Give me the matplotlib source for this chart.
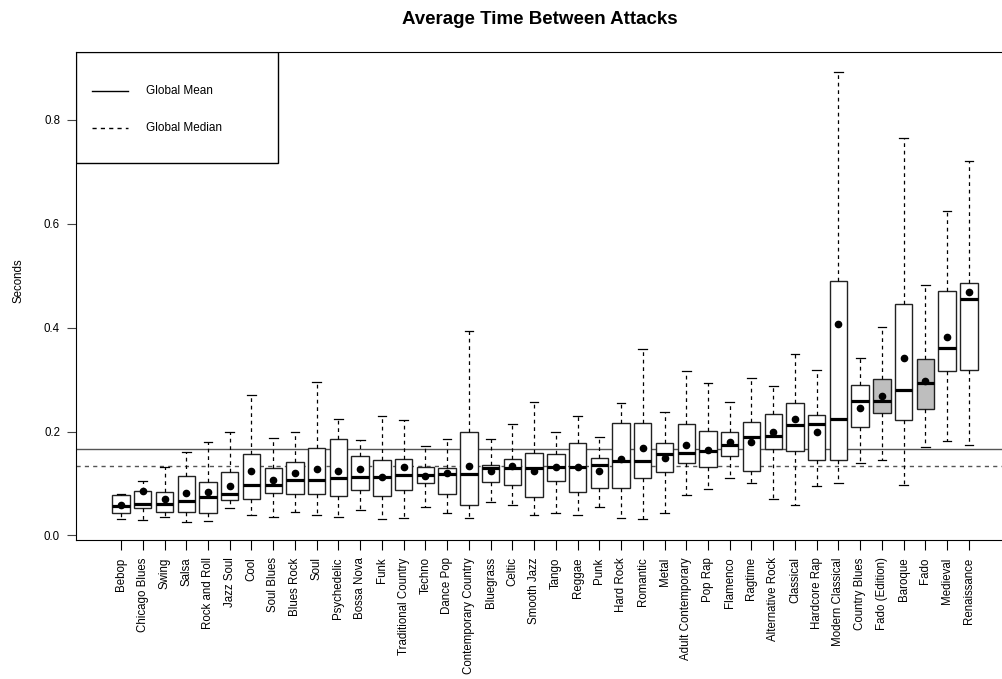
import matplotlib
matplotlib.use("Agg")
import matplotlib.pyplot as plt
from matplotlib.patches import Rectangle

plt.rcParams["font.family"] = ["Liberation Sans", "DejaVu Sans"]

# Genres, ordered by median time between attacks
generos = [
    "Bebop", "Chicago Blues", "Swing", "Salsa", "Rock and Roll", "Jazz Soul",
    "Cool", "Soul Blues", "Blues Rock", "Soul", "Psychedelic", "Bossa Nova",
    "Funk", "Traditional Country", "Techno", "Dance Pop", "Contemporary Country",
    "Bluegrass", "Celtic", "Smooth Jazz", "Tango", "Reggae", "Punk", "Hard Rock",
    "Romantic", "Metal", "Adult Contemporary", "Pop Rap", "Flamenco", "Ragtime",
    "Alternative Rock", "Classical", "Hardcore Rap", "Modern Classical",
    "Country Blues", "Fado (Edition)", "Baroque", "Fado", "Medieval", "Renaissance",
]

bigote_inf = [0.031, 0.030, 0.035, 0.026, 0.028, 0.052, 0.039, 0.035, 0.045, 0.040,
              0.035, 0.049, 0.032, 0.033, 0.054, 0.043, 0.034, 0.064, 0.058, 0.040,
              0.044, 0.040, 0.054, 0.034, 0.032, 0.044, 0.078, 0.090, 0.111, 0.100,
              0.070, 0.058, 0.095, 0.100, 0.140, 0.145, 0.097, 0.170, 0.182, 0.175]
q1 = [0.044, 0.052, 0.045, 0.045, 0.043, 0.068, 0.070, 0.081, 0.080, 0.080,
      0.075, 0.088, 0.076, 0.087, 0.100, 0.079, 0.059, 0.102, 0.097, 0.074,
      0.104, 0.084, 0.092, 0.091, 0.111, 0.123, 0.139, 0.131, 0.153, 0.125,
      0.166, 0.163, 0.146, 0.145, 0.209, 0.235, 0.222, 0.243, 0.316, 0.318]
mediana = [0.056, 0.061, 0.061, 0.067, 0.074, 0.079, 0.098, 0.098, 0.107, 0.107,
           0.110, 0.113, 0.113, 0.116, 0.116, 0.118, 0.119, 0.129, 0.129, 0.129,
           0.131, 0.132, 0.135, 0.143, 0.143, 0.157, 0.159, 0.163, 0.174, 0.190,
           0.192, 0.212, 0.215, 0.224, 0.258, 0.259, 0.279, 0.294, 0.361, 0.455]
q3 = [0.077, 0.085, 0.084, 0.114, 0.102, 0.123, 0.157, 0.130, 0.141, 0.169,
      0.185, 0.153, 0.146, 0.148, 0.132, 0.130, 0.199, 0.136, 0.148, 0.158,
      0.157, 0.178, 0.149, 0.216, 0.216, 0.177, 0.214, 0.201, 0.200, 0.218,
      0.233, 0.254, 0.231, 0.489, 0.290, 0.301, 0.445, 0.340, 0.470, 0.486]
bigote_sup = [0.079, 0.104, 0.132, 0.160, 0.180, 0.199, 0.270, 0.188, 0.199, 0.296,
              0.225, 0.184, 0.230, 0.223, 0.173, 0.185, 0.393, 0.186, 0.215, 0.257,
              0.200, 0.230, 0.190, 0.254, 0.358, 0.237, 0.317, 0.294, 0.256, 0.302,
              0.288, 0.349, 0.318, 0.892, 0.341, 0.401, 0.764, 0.482, 0.625, 0.720]
media = [0.059, 0.085, 0.070, 0.081, 0.083, 0.095, 0.124, 0.107, 0.120, 0.128,
         0.125, 0.127, 0.113, 0.132, 0.115, 0.121, 0.134, 0.125, 0.134, 0.125,
         0.131, 0.132, 0.124, 0.147, 0.169, 0.149, 0.174, 0.165, 0.179, 0.180,
         0.199, 0.224, 0.199, 0.406, 0.245, 0.268, 0.341, 0.297, 0.382, 0.469]

media_global = 0.166
mediana_global = 0.1345

resaltados = ["Fado (Edition)", "Fado"]

stats = []
for i, g in enumerate(generos):
    stats.append({
        "label": g,
        "whislo": bigote_inf[i],
        "q1": q1[i],
        "med": mediana[i],
        "q3": q3[i],
        "whishi": bigote_sup[i],
        "mean": media[i],
    })

fig = plt.figure(figsize=(10.03, 6.79), dpi=100)
ax = fig.add_axes([0.0758, 0.2047, 0.9242, 0.7187])

pos = list(range(1, len(generos) + 1))
bp = ax.bxp(
    stats,
    positions=pos,
    widths=0.8,
    showmeans=True,
    showfliers=False,
    patch_artist=True,
    boxprops=dict(edgecolor="#222222", linewidth=1.0),
    medianprops=dict(color="black", linewidth=2.3, solid_capstyle="butt"),
    whiskerprops=dict(color="black", linewidth=0.9, linestyle=(0, (3, 3))),
    capprops=dict(color="black", linewidth=0.9),
    meanprops=dict(marker="o", markerfacecolor="black", markeredgecolor="black", markersize=4.5),
    capwidths=0.4,
)
for g, caja in zip(generos, bp["boxes"]):
    caja.set_facecolor("#bebebe" if g in resaltados else "white")

ax.axhline(media_global, color="#555555", linewidth=1.0, zorder=0)
ax.axhline(mediana_global, color="#555555", linewidth=1.0, linestyle=(0, (3, 3)), zorder=0)

ax.set_xlim(-1.07, 41.57)
ax.set_ylim(-0.0087, 0.930)
ax.set_yticks([0.0, 0.2, 0.4, 0.6, 0.8])
ax.set_yticklabels(["0.0", "0.2", "0.4", "0.6", "0.8"])
ax.set_xticks(pos)
ax.set_xticklabels(generos, rotation=90, fontsize=8.3)
ax.tick_params(axis="y", labelsize=8.3, length=6.5, pad=5, color="#444444")
ax.tick_params(axis="x", length=7, pad=5.5)
ax.spines["right"].set_visible(False)

# Legend box in the top-left corner
ax.add_patch(Rectangle((0, 0.7725), 0.218, 0.2275, transform=ax.transAxes,
                       facecolor="white", edgecolor="black", linewidth=1.0, zorder=5))
ax.plot([0.0173, 0.0561], [0.920, 0.920], transform=ax.transAxes,
        color="black", linewidth=1.0, zorder=6)
ax.plot([0.0173, 0.0561], [0.844, 0.844], transform=ax.transAxes,
        color="black", linewidth=1.0, linestyle=(0, (3, 3)), zorder=6)
ax.text(0.0755, 0.920, "Global Mean", transform=ax.transAxes, fontsize=8.5,
        va="center", zorder=6)
ax.text(0.0755, 0.844, "Global Median", transform=ax.transAxes, fontsize=8.5,
        va="center", zorder=6)

fig.text(18 / 1003, 1 - 281 / 679, "Seconds", rotation=90, fontsize=8.3,
         ha="center", va="center")
fig.text(539.5 / 1003, 1 - 20 / 679, "Average Time Between Attacks",
         fontsize=13.5, fontweight="bold", ha="center", va="center")

fig.savefig("out.png", dpi=100)
